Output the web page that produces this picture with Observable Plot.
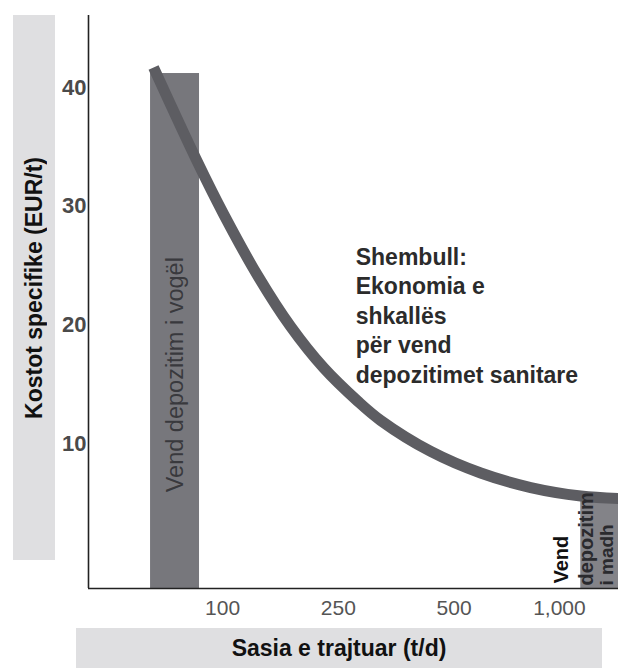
<!DOCTYPE html>
<html><head><meta charset="utf-8">
<script src="https://cdn.jsdelivr.net/npm/d3@7"></script>
<script src="https://cdn.jsdelivr.net/npm/@observablehq/plot@0.6"></script>
<style>
body{margin:0;background:#fff;font-family:"Liberation Sans",Arial,Helvetica,sans-serif;}
#wrap{position:relative;width:618px;height:670px;overflow:hidden;background:#fff;}
#chart{position:absolute;left:0;top:0;}
.band{position:absolute;background:#dfdfe1;display:flex;align-items:center;justify-content:center;font-weight:bold;font-size:23px;color:#111;white-space:nowrap;}
#ylab{left:13px;top:15px;width:42px;height:545px;}
#ylab span{writing-mode:vertical-rl;transform:rotate(180deg);}
#xlab{left:76px;top:628px;width:526px;height:40px;}
</style></head><body>
<div id="wrap"><div id="chart"></div><div id="ylab" class="band"><span></span></div><div id="xlab" class="band"></div></div>
<script>
// Axis text
const yTitle = "Kostot specifike (EUR/t)";
const xTitle = "Sasia e trajtuar (t/d)";
// X axis: evenly spaced category positions and their labels
const xTickPositions = [1, 2, 3, 3.91];
const xTickLabels = ["100", "250", "500", "1,000"];
const yTicks = [10, 20, 30, 40];
// Cost curve (x in axis position units, y in EUR/t)
const curveX = [0.404, 0.784, 1.009, 1.302, 1.588, 1.873, 2.167, 2.366, 2.798, 3.23, 3.662, 4.094, 4.42];
const curveY = [41.69, 33.71, 29.33, 24.17, 19.86, 16.38, 13.57, 11.94, 9.33, 7.51, 6.29, 5.58, 5.37];
// Landfill size bands
const barLabels = ["Vend depozitim i vogël", "Vend depozitim i madh"];
const barX1 = [0.378, 4.094];
const barX2 = [0.801, 4.42];
const barTop = [41.18, 5.37];
const bigBarLines = ["Vend", "depozitim", "i madh"];
const note = "Shembull:\nEkonomia e\nshkallës\npër vend\ndepozitimet sanitare";

const xDomain = [-0.158, 4.42];
const yDomain = [-2.22, 46.07];

const curve = curveX.map((x, i) => ({x, y: curveY[i]}));
const bars = barLabels.map((label, i) => ({label, x1: barX1[i], x2: barX2[i], top: barTop[i]}));
const font = '"Liberation Sans", Arial, Helvetica, sans-serif';

const chart = Plot.plot({
  width: 618,
  height: 620,
  marginTop: 15,
  marginBottom: 32,
  marginLeft: 88,
  marginRight: 0,
  style: {fontFamily: font, background: "transparent", overflow: "visible"},
  x: {domain: xDomain},
  y: {domain: yDomain},
  marks: [
    Plot.rectY([bars[0]], {x1: "x1", x2: "x2", y1: yDomain[0], y2: "top", fill: "#77777c"}),
    Plot.rectY([bars[1]], {x1: "x1", x2: "x2", y1: yDomain[0], y2: "top", fill: "#838388"}),
    Plot.text([bars[0]], {x: d => (d.x1 + d.x2) / 2, y: 15.8, text: d => d.label, rotate: -90,
      fontSize: 23.5, fill: "#2e2e32", fillOpacity: 0.85, stroke: "none", textAnchor: "middle", lineAnchor: "middle"}),
    Plot.line(curve, {x: "x", y: "y", curve: "catmull-rom", stroke: "#5d5d62", strokeWidth: 11, strokeLinecap: "butt"}),
    Plot.text([bigBarLines[0]], {x: barX1[1], y: yDomain[0], text: d => d, rotate: -90, dx: -19, dy: -5,
      fontSize: 20, fontWeight: "bold", fill: "#111", textAnchor: "start", lineAnchor: "middle"}),
    Plot.text([bigBarLines[1]], {x: barX1[1], y: yDomain[0], text: d => d, rotate: -90, dx: 6, dy: -3,
      fontSize: 20, fontWeight: "bold", fill: "#2a2a2e", textAnchor: "start", lineAnchor: "middle"}),
    Plot.text([bigBarLines[2]], {x: barX1[1], y: yDomain[0], text: d => d, rotate: -90, dx: 26, dy: -3,
      fontSize: 19, fontWeight: "bold", fill: "#2a2a2e", textAnchor: "start", lineAnchor: "middle"}),
    Plot.text([note], {x: 2.15, y: 26.85, text: d => d, textAnchor: "start", lineAnchor: "top",
      lineHeight: 1.283, fontSize: 23, fontWeight: "bold", fill: "#2b2b2b"}),
    Plot.axisY({ticks: yTicks, tickSize: 0, tickPadding: 2, fontSize: 22, fontWeight: "bold", fill: "#4a4a4a", label: null}),
    Plot.axisX({ticks: xTickPositions, tickFormat: (d, i) => xTickLabels[i], tickSize: 0, tickPadding: 12,
      fontSize: 21, fill: "#555", label: null}),
    Plot.ruleX([xDomain[0]], {stroke: "#222", strokeWidth: 1.6}),
    Plot.ruleY([yDomain[0]], {stroke: "#222", strokeWidth: 1.6})
  ]
});
document.getElementById("chart").appendChild(chart);
document.querySelector("#ylab span").textContent = yTitle;
document.getElementById("xlab").textContent = xTitle;
</script>
</body></html>
